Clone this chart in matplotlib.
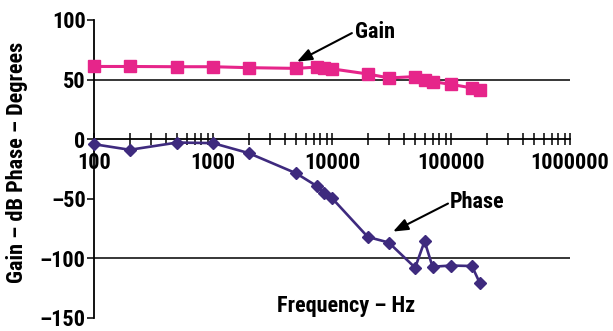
import numpy as np
import matplotlib
matplotlib.use("Agg")
import matplotlib.pyplot as plt
from matplotlib.ticker import LogLocator, FixedLocator, NullFormatter

plt.rcParams['font.family'] = ['Roboto Condensed', 'Barlow Semi Condensed', 'DejaVu Sans']
plt.rcParams['font.weight'] = 'bold'

freq  = [100, 200, 500, 1000, 2000, 5000, 7500, 8500, 10000, 20000, 30000,
         50000, 60000, 70000, 100000, 150000, 175000]
gain  = [61, 61, 60.8, 60.8, 60, 59.4, 60.5, 59.7, 59, 54.7, 51.4,
         52.5, 50, 48.3, 46, 43, 41.4]
phase = [-4.2, -8.9, -2.8, -3.3, -11.7, -28.6, -39.5, -45, -49.4, -82, -86.7,
         -107.8, -85.6, -107, -106, -106.4, -120.8]

yticks = [100, 50, 0, -50, -100, -150]
ytick_labels = ["100", "50", "0", "\u201350", "\u2013100", "\u2013150"]
xticks = [100, 1000, 10000, 100000, 1000000]
xtick_labels = ["100", "1000", "10000", "100000", "1000000"]

pink = "#E6258A"
purple = "#3E2A7E"

fig = plt.figure(figsize=(6.13, 3.31), dpi=100)
ax = fig.add_axes([0.1533, 0.0393, 0.7765, 0.9003])

ax.plot(freq, gain, "s-", color=pink, lw=2.2, ms=8.5, clip_on=False, zorder=4)
ax.plot(freq, phase, "D-", color=purple, lw=1.9, ms=6.5, clip_on=False, zorder=4)

for yv in (50, -100):
    ax.axhline(yv, color="black", lw=1.1, zorder=1)

ax.set_xscale("log")
ax.set_xlim(100, 1000000)
ax.set_ylim(-150, 100)

ax.spines["top"].set_visible(False)
ax.spines["right"].set_visible(False)
ax.spines["bottom"].set_position(("data", 0))
ax.spines["bottom"].set_linewidth(1.3)
ax.spines["left"].set_linewidth(1.3)

ax.xaxis.set_major_locator(FixedLocator(xticks))
ax.set_xticklabels(xtick_labels)
ax.xaxis.set_minor_locator(LogLocator(base=10, subs=np.arange(2, 10)))
ax.xaxis.set_minor_formatter(NullFormatter())
ax.tick_params(axis="x", which="both", direction="inout", length=8, width=1.1,
               labelsize=16, pad=5)

ax.set_yticks(yticks)
ax.set_yticklabels(ytick_labels)
ax.tick_params(axis="y", direction="out", length=5, width=1.1, labelsize=16, pad=1)

arrow = dict(arrowstyle="-|>,head_length=0.9,head_width=0.35", color="black", lw=1.5,
             shrinkA=0, shrinkB=0)
ax.annotate("", xy=(5080, 65), xytext=(14700, 89), arrowprops=arrow)
ax.text(15600, 90, "Gain", fontsize=16, fontweight="bold", ha="left", va="center")
ax.annotate("", xy=(32600, -77.5), xytext=(94400, -54), arrowprops=arrow)
ax.text(98100, -52.5, "Phase", fontsize=16, fontweight="bold", ha="left", va="center")

fig.text(0.565, 0.0755, "Frequency \u2013 Hz", fontsize=16, fontweight="bold",
         ha="center", va="center")
fig.text(0.028, 0.508, "Gain \u2013 dB Phase \u2013 Degrees", fontsize=16,
         fontweight="bold", rotation=90, ha="center", va="center")

plt.savefig("out.png", dpi=100)
